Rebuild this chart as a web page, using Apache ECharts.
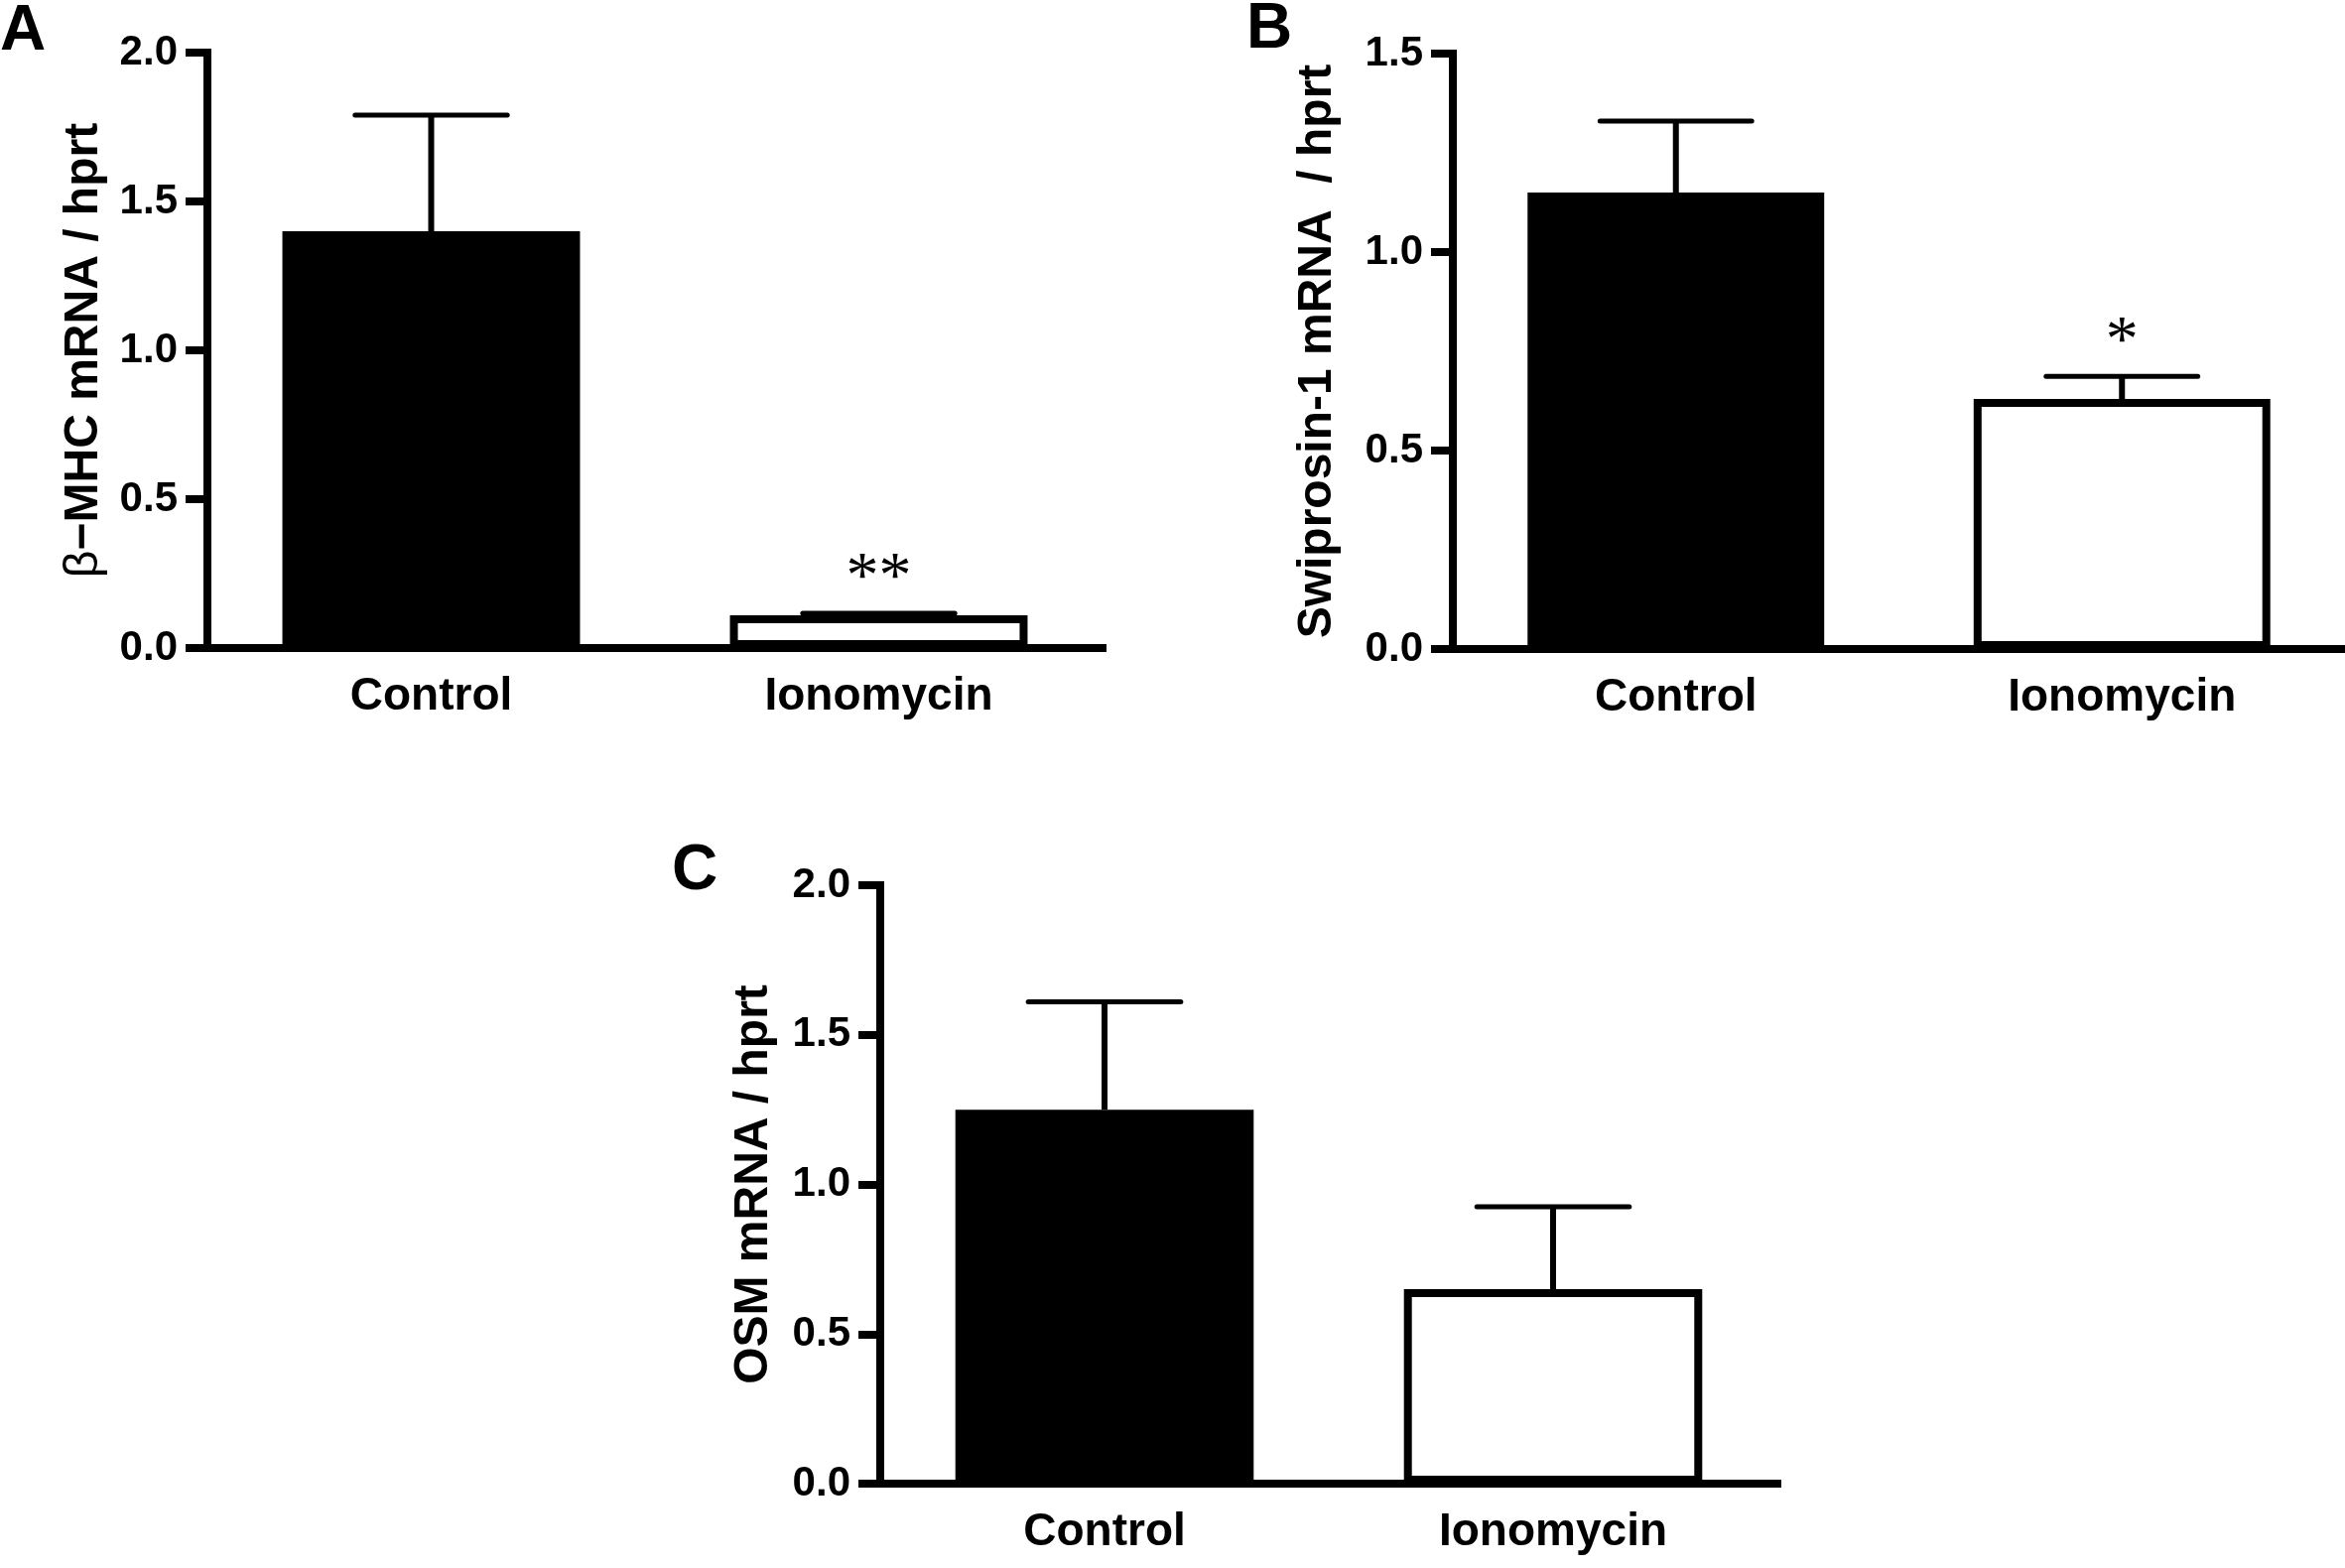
<!DOCTYPE html>
<html>
<head>
<meta charset="utf-8">
<title>mRNA bars</title>
<script src="https://cdn.jsdelivr.net/npm/echarts@6/dist/echarts.min.js"></script>
<style>
  html, body { margin: 0; padding: 0; background: #fff; }
  #main { width: 2363px; height: 1580px; }
</style>
</head>
<body>
<div id="main"></div>
<script>
// values
var categories = ['Control', 'Ionomycin'];

var mhcMean = [1.40, 0.11];
var mhcTop = [1.79, 0.117];
var mhcStars = ['', '**'];

var swipMean = [1.15, 0.63];
var swipTop = [1.33, 0.687];
var swipStars = ['', '*'];

var osmMean = [1.25, 0.65];
var osmTop = [1.61, 0.925];
var osmStars = ['', ''];

var mhcMax = 2.0, swipMax = 1.5, osmMax = 2.0, yStep = 0.5;

var FONT = 'Liberation Sans';
var myChart = echarts.init(document.getElementById('main'));

function xAxisFor(gi) {
  return {
    type: 'category', gridIndex: gi, data: categories,
    axisLine: { lineStyle: { color: '#000', width: 8, cap: 'square' } },
    axisTick: { alignWithLabel: true, length: 24, lineStyle: { color: '#000', width: 8 } },
    axisLabel: { color: '#000', fontFamily: FONT, fontWeight: 'bold', fontSize: 46, margin: 26 },
    splitLine: { show: false }
  };
}

function yAxisFor(gi, max, name, gap) {
  return {
    type: 'value', gridIndex: gi, min: 0, max: max, interval: yStep,
    name: name, nameLocation: 'middle', nameGap: gap, nameRotate: 90,
    nameTextStyle: {
      color: '#000', fontFamily: FONT, fontWeight: 'bold', fontSize: 48,
      rich: { g: { fontFamily: FONT, fontWeight: 'normal', fontSize: 48, color: '#000' } }
    },
    axisLine: { show: true, lineStyle: { color: '#000', width: 8, cap: 'square' } },
    axisTick: { show: true, length: 22, lineStyle: { color: '#000', width: 8 } },
    axisLabel: {
      color: '#000', fontFamily: FONT, fontWeight: 'bold', fontSize: 42, margin: 30,
      formatter: function (v) { return v.toFixed(1); }
    },
    splitLine: { show: false }
  };
}

function barSeries(gi, means) {
  return {
    type: 'bar', xAxisIndex: gi, yAxisIndex: gi, barWidth: '66.5%',
    data: means.map(function (m, i) {
      return { value: m, itemStyle: { color: i === 0 ? '#000' : '#fff' } };
    }),
    itemStyle: { borderColor: '#000', borderWidth: 8 },
    z: 2
  };
}

function errSeries(gi, means, tops, stars) {
  return {
    type: 'custom', xAxisIndex: gi, yAxisIndex: gi, z: 3,
    data: means.map(function (m, i) { return [i, m, tops[i]]; }),
    renderItem: function (params, api) {
      var base = api.coord([api.value(0), api.value(1)]);
      var top = api.coord([api.value(0), api.value(2)]);
      var half = api.size([1, 0])[0] * 0.17;
      var kids = [
        { type: 'line', shape: { x1: base[0], y1: base[1], x2: top[0], y2: top[1] },
          style: { stroke: '#000', lineWidth: 6 } },
        { type: 'line', shape: { x1: top[0] - half, y1: top[1], x2: top[0] + half, y2: top[1] },
          style: { stroke: '#000', lineWidth: 5, lineCap: 'round' } }
      ];
      var s = stars[params.dataIndex];
      if (s) {
        kids.push({ type: 'text', x: top[0], y: top[1] - 34,
          style: { text: s, fill: '#000', fontFamily: 'Liberation Serif', fontSize: 66,
                   align: 'center', verticalAlign: 'middle' } });
      }
      return { type: 'group', children: kids };
    }
  };
}

option = {
  backgroundColor: '#fff',
  animation: false,
  grid: [
    { left: 209, top: 53, width: 902, height: 600 },
    { left: 1464, top: 54, width: 899, height: 600 },
    { left: 887, top: 892, width: 904, height: 603 }
  ],
  xAxis: [xAxisFor(0), xAxisFor(1), xAxisFor(2)],
  yAxis: [
    yAxisFor(0, mhcMax, '{g|\u03b2}\u2212MHC mRNA / hprt', 100),
    yAxisFor(1, swipMax, 'Swiprosin-1 mRNA  / hprt', 112),
    yAxisFor(2, osmMax, 'OSM mRNA / hprt', 103)
  ],
  series: [
    barSeries(0, mhcMean), errSeries(0, mhcMean, mhcTop, mhcStars),
    barSeries(1, swipMean), errSeries(1, swipMean, swipTop, swipStars),
    barSeries(2, osmMean), errSeries(2, osmMean, osmTop, osmStars)
  ],
  graphic: [
    { type: 'text', left: 0, top: 0, style: { text: 'A', fill: '#000', font: 'bold 64px "Liberation Sans"' } },
    { type: 'text', left: 1256, top: -2, style: { text: 'B', fill: '#000', font: 'bold 64px "Liberation Sans"' } },
    { type: 'text', left: 677, top: 846, style: { text: 'C', fill: '#000', font: 'bold 64px "Liberation Sans"' } }
  ]
};
myChart.setOption(option);
</script>
</body>
</html>
